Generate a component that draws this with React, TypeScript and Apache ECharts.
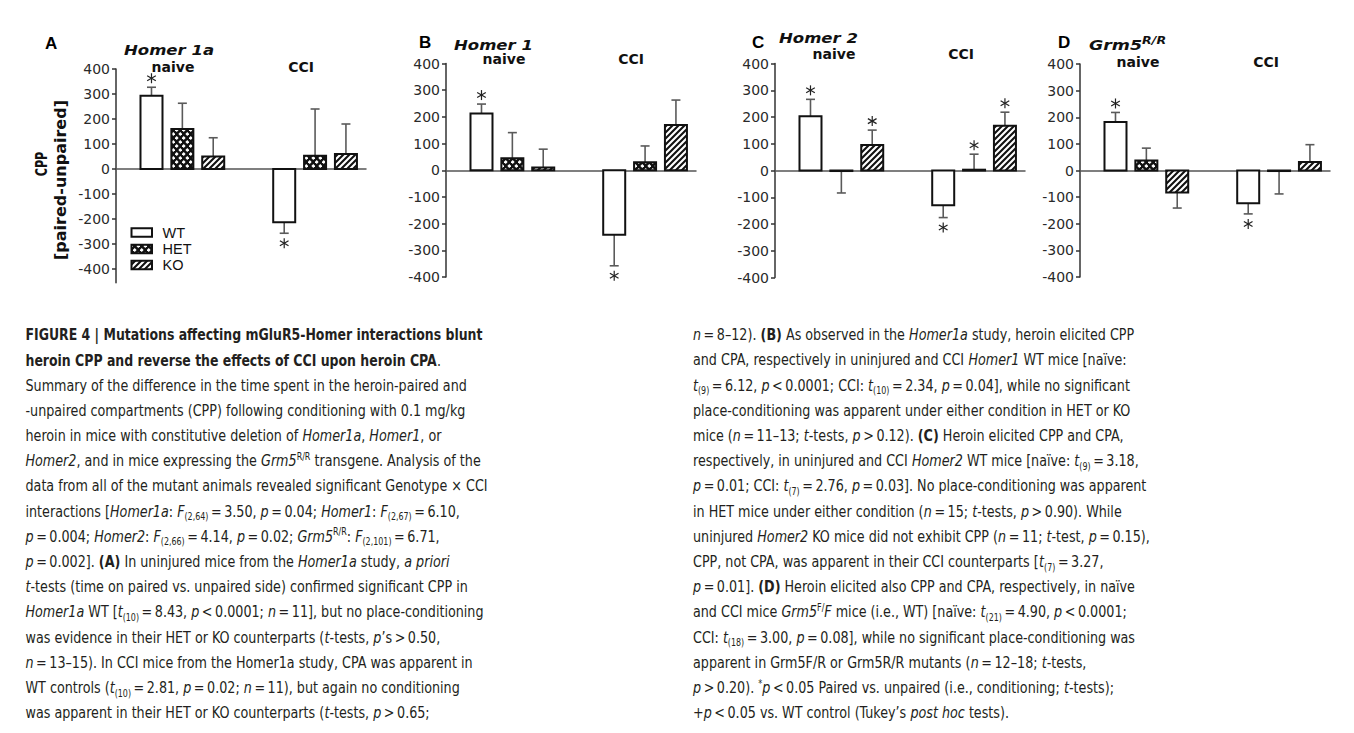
import React, { useEffect, useRef } from 'react';
import * as echarts from 'echarts';

// ---------- data ----------
const conditions = ['naive', 'CCI'];
const genotypes = ['WT', 'HET', 'KO'];
const panelLetters = ['A', 'B', 'C', 'D'];
const panelGenes = ['Homer 1a', 'Homer 1', 'Homer 2', 'Grm5'];
const yTicks = [-400, -300, -200, -100, 0, 100, 200, 300, 400];

// order: naive WT, naive HET, naive KO, CCI WT, CCI HET, CCI KO
const meanA = [293, 160, 50, -213, 53, 60];
const semA = [34, 103, 75, 44, 187, 120];
const starA = [1, 0, 0, 1, 0, 0];

const meanB = [213, 45, 10, -242, 30, 170];
const semB = [35, 96, 69, 116, 61, 93];
const starB = [1, 0, 0, 1, 0, 0];

const meanC = [203, -2, 95, -130, 3, 167];
const semC = [63, 82, 56, 46, 58, 51];
const starC = [1, 0, 1, 1, 1, 1];

const meanD = [182, 38, -83, -123, -2, 32];
const semD = [36, 46, 58, 40, 86, 65];
const starD = [1, 0, 0, 1, 0, 0];

const panelMeans = [meanA, meanB, meanC, meanD];
const panelSems = [semA, semB, semC, semD];
const panelStars = [starA, starB, starC, starD];

const captionLeft = [
  '{b|FIGURE 4 | Mutations affecting mGluR5-Homer interactions blunt}',
  '{b|heroin CPP and reverse the effects of CCI upon heroin CPA}.',
  'Summary of the difference in the time spent in the heroin-paired and',
  '-unpaired compartments (CPP) following conditioning with 0.1 mg/kg',
  'heroin in mice with constitutive deletion of {i|Homer1a}, {i|Homer1}, or',
  '{i|Homer2}, and in mice expressing the {i|Grm5}{sup|R/R} transgene. Analysis of the',
  'data from all of the mutant animals revealed significant Genotype × CCI',
  'interactions [{i|Homer1a}: {i|F}{sub|(2,64)} = 3.50, {i|p} = 0.04; {i|Homer1}: {i|F}{sub|(2,67)} = 6.10,',
  '{i|p} = 0.004; {i|Homer2}: {i|F}{sub|(2,66)} = 4.14, {i|p} = 0.02; {i|Grm5}{sup|R/R}: {i|F}{sub|(2,101)} = 6.71,',
  '{i|p} = 0.002]. {b|(A)} In uninjured mice from the {i|Homer1a} study, {i|a priori}',
  '{i|t}-tests (time on paired vs. unpaired side) confirmed significant CPP in',
  '{i|Homer1a} WT [{i|t}{sub|(10)} = 8.43, {i|p} < 0.0001; {i|n} = 11], but no place-conditioning',
  'was evidence in their HET or KO counterparts ({i|t}-tests, {i|p}’s > 0.50,',
  '{i|n} = 13–15). In CCI mice from the Homer1a study, CPA was apparent in',
  'WT controls ({i|t}{sub|(10)} = 2.81, {i|p} = 0.02; {i|n} = 11), but again no conditioning',
  'was apparent in their HET or KO counterparts ({i|t}-tests, {i|p} > 0.65;',
];

const captionRight = [
  '{i|n} = 8–12). {b|(B)} As observed in the {i|Homer1a} study, heroin elicited CPP',
  'and CPA, respectively in uninjured and CCI {i|Homer1} WT mice [naïve:',
  '{i|t}{sub|(9)} = 6.12, {i|p} < 0.0001; CCI: {i|t}{sub|(10)} = 2.34, {i|p} = 0.04], while no significant',
  'place-conditioning was apparent under either condition in HET or KO',
  'mice ({i|n} = 11–13; {i|t}-tests, {i|p} > 0.12). {b|(C)} Heroin elicited CPP and CPA,',
  'respectively, in uninjured and CCI {i|Homer2} WT mice [naïve: {i|t}{sub|(9)} = 3.18,',
  '{i|p} = 0.01; CCI: {i|t}{sub|(7)} = 2.76, {i|p} = 0.03]. No place-conditioning was apparent',
  'in HET mice under either condition ({i|n} = 15; {i|t}-tests, {i|p} > 0.90). While',
  'uninjured {i|Homer2} KO mice did not exhibit CPP ({i|n} = 11; {i|t}-test, {i|p} = 0.15),',
  'CPP, not CPA, was apparent in their CCI counterparts [{i|t}{sub|(7)} = 3.27,',
  '{i|p} = 0.01]. {b|(D)} Heroin elicited also CPP and CPA, respectively, in naïve',
  'and CCI mice {i|Grm5}{sup|F/}{i|F} mice (i.e., WT) [naïve: {i|t}{sub|(21)} = 4.90, {i|p} < 0.0001;',
  'CCI: {i|t}{sub|(18)} = 3.00, {i|p} = 0.08], while no significant place-conditioning was',
  'apparent in Grm5F/R or Grm5R/R mutants ({i|n} = 12–18; {i|t}-tests,',
  '{i|p} > 0.20). {sup|*}{i|p} < 0.05 Paired vs. unpaired (i.e., conditioning; {i|t}-tests);',
  '+{i|p} < 0.05 vs. WT control (Tukey’s {i|post hoc} tests).',
];

// ---------- layout ----------
const GROUP_GAP = 4.3;
const X_MIN = -1.15;
const X_MAX = 6.95;
const GRID_W = 250;
const grids = [
  { left: 116, top: 69, height: 213.75, yMin: -455 },
  { left: 446, top: 63.5, height: 213.5, yMin: -400 },
  { left: 775, top: 63.5, height: 214, yMin: -400 },
  { left: 1080, top: 64, height: 213, yMin: -400 },
];
const letterPos = [[45, 43], [419, 42], [752, 42], [1058, 42]];
const genePos = [[124, 50], [454, 45], [779, 38], [1089, 45]];
const naivePos = [[173, 67], [504, 59], [834, 54], [1138, 62]];
const cciPos = [[301, 67], [631, 59], [961, 54], [1266, 62]];

const CAP_FONT = '"Liberation Sans Narrow", "DejaVu Sans Condensed", "Liberation Sans", sans-serif';
const CHART_FONT = '"DejaVu Sans", Verdana, sans-serif';
const INK = '#231f20';
const THIN = '\u2009';

function tighten(s: string): string {
  return s.replace(/ ([=<>]) /g, THIN + '$1' + THIN);
}

function makeTile(kind: string): HTMLCanvasElement {
  const c = document.createElement('canvas');
  const g = c.getContext('2d') as CanvasRenderingContext2D;
  if (kind === 'het') {
    c.width = 7; c.height = 8;
    g.fillStyle = '#111'; g.fillRect(0, 0, 7, 8);
    g.fillStyle = '#fff';
    const d = (x: number, y: number, r: number) => {
      g.beginPath(); g.moveTo(x, y - r); g.lineTo(x + r, y); g.lineTo(x, y + r); g.lineTo(x - r, y); g.closePath(); g.fill();
    };
    d(1.75, 2, 1.9); d(5.25, 6, 1.9);
  } else {
    c.width = 6; c.height = 6;
    g.fillStyle = '#fff'; g.fillRect(0, 0, 6, 6);
    g.strokeStyle = '#111'; g.lineWidth = 2.1;
    g.beginPath();
    g.moveTo(-1, 7); g.lineTo(7, -1);
    g.moveTo(-1, 1); g.lineTo(1, -1);
    g.moveTo(5, 7); g.lineTo(7, 5);
    g.stroke();
  }
  return c;
}

export default function App() {
  const ref = useRef<HTMLDivElement>(null);
  useEffect(() => {
    if (!ref.current) return;
    const chart = echarts.init(ref.current, null, { renderer: 'svg' });
    const het = makeTile('het');
    const ko = makeTile('ko');
    const fills: any[] = [
      '#ffffff',
      { image: het, repeat: 'repeat', imageWidth: 7, imageHeight: 8 },
      { image: ko, repeat: 'repeat', imageWidth: 6, imageHeight: 6 },
    ];

    const renderItem = (params: any, api: any) => {
      const x = api.value(0);
      const m = api.value(1);
      const e = api.value(2);
      const st = api.value(3);
      const g = api.value(4);
      const dir = m >= 0 ? 1 : -1;
      const p0 = api.coord([x, 0]);
      const p1 = api.coord([x, m]);
      const pe = api.coord([x, m + dir * e]);
      const cx = p0[0];
      const bw = 22;
      const children: any[] = [
        { type: 'line', shape: { x1: cx, y1: p1[1], x2: cx, y2: pe[1] }, style: { stroke: '#5a5a5a', lineWidth: 1.6 } },
        { type: 'line', shape: { x1: cx - 4.5, y1: pe[1], x2: cx + 4.5, y2: pe[1] }, style: { stroke: '#5a5a5a', lineWidth: 1.6 } },
        {
          type: 'rect',
          shape: { x: cx - bw / 2, y: Math.min(p0[1], p1[1]), width: bw, height: Math.abs(p1[1] - p0[1]) },
          style: { fill: fills[g], stroke: '#111', lineWidth: 2 },
        },
      ];
      if (st) {
        const cy = pe[1] + (dir > 0 ? -9 : 10);
        const r = 5;
        const a = r * Math.cos(Math.PI / 6);
        const b = r * Math.sin(Math.PI / 6);
        const s = { stroke: '#222', lineWidth: 1.2 };
        children.push({ type: 'line', shape: { x1: cx, y1: cy - r, x2: cx, y2: cy + r }, style: s });
        children.push({ type: 'line', shape: { x1: cx - a, y1: cy - b, x2: cx + a, y2: cy + b }, style: s });
        children.push({ type: 'line', shape: { x1: cx - a, y1: cy + b, x2: cx + a, y2: cy - b }, style: s });
      }
      return { type: 'group', children };
    };

    const gridOpt = grids.map((g) => ({
      left: g.left, top: g.top, width: GRID_W, height: g.height, containLabel: false, outerBoundsMode: 'none',
    }));
    const xAxes = grids.map((g, p) => ({
      type: 'value', gridIndex: p, min: X_MIN, max: X_MAX,
      axisLine: { show: true, onZero: true, lineStyle: { color: '#555', width: 1.5 } },
      axisTick: { show: false }, axisLabel: { show: false }, splitLine: { show: false },
    }));
    const yAxes = grids.map((g, p) => ({
      type: 'value', gridIndex: p, min: g.yMin, max: 400,
      axisLine: { show: true, onZero: false, lineStyle: { color: '#333', width: 1.5 } },
      axisTick: { show: true, customValues: yTicks, length: 4, lineStyle: { color: '#333', width: 1.5 } },
      axisLabel: { show: true, customValues: yTicks, fontSize: 14, fontFamily: CHART_FONT, color: '#2a2a2a', margin: 6 },
      splitLine: { show: false },
    }));
    const series = panelMeans.map((means, p) => ({
      type: 'custom',
      name: panelLetters[p],
      xAxisIndex: p,
      yAxisIndex: p,
      renderItem,
      clip: false,
      silent: true,
      encode: { x: 0, y: 1 },
      data: means.map((m, i) => {
        const c = Math.floor(i / genotypes.length);
        const g = i % genotypes.length;
        return [c * GROUP_GAP + g, m, panelSems[p][i], panelStars[p][i], g];
      }),
    }));

    const graphic: any[] = [];
    const txt = (x: number, y: number, text: string, st: any) => ({
      type: 'text', x, y, silent: true,
      style: Object.assign({ text, fill: '#111', align: 'left', verticalAlign: 'middle', textAlign: 'left', textVerticalAlign: 'middle' }, st),
    });
    panelLetters.forEach((L, p) => {
      graphic.push(txt(letterPos[p][0], letterPos[p][1], L, { fontSize: 17, fontWeight: 'bold', fontFamily: '"Liberation Sans", Arial, sans-serif', fill: '#000' }));
      const geneStyle = { fontSize: 14.5, fontWeight: 'bold', fontStyle: 'italic', fontFamily: CHART_FONT, fill: '#111' };
      if (p === 3) {
        graphic.push({
          type: 'text', x: genePos[p][0], y: genePos[p][1], silent: true, scaleX: 1.2,
          style: {
            text: '{g|' + panelGenes[p] + '}{s|R/R}', align: 'left', verticalAlign: 'middle', textAlign: 'left', textVerticalAlign: 'middle',
            fontSize: 14.5, fontFamily: CHART_FONT, lineHeight: 20,
            rich: {
              g: Object.assign({ lineHeight: 20 }, geneStyle),
              s: { fontSize: 10.5, fontWeight: 'bold', fontStyle: 'italic', fontFamily: CHART_FONT, fill: '#111', lineHeight: 12, verticalAlign: 'top' },
            },
          },
        });
      } else {
        graphic.push(Object.assign(txt(genePos[p][0], genePos[p][1], panelGenes[p], geneStyle), { scaleX: 1.14 }));
      }
      const condStyle = { fontSize: 14, fontWeight: 'bold', fontFamily: CHART_FONT, fill: '#111', align: 'center', textAlign: 'center' };
      graphic.push(txt(naivePos[p][0], naivePos[p][1], conditions[0], condStyle));
      graphic.push(txt(cciPos[p][0], cciPos[p][1], conditions[1], condStyle));
    });
    // y axis name (panel A)
    graphic.push({
      type: 'text', x: 41.5, y: 164, rotation: Math.PI / 2, scaleX: 0.7, silent: true,
      style: { text: 'CPP', fontSize: 16, fontWeight: 'bold', fontFamily: CHART_FONT, fill: '#111', align: 'center', verticalAlign: 'middle', textAlign: 'center', textVerticalAlign: 'middle' },
    });
    graphic.push({
      type: 'text', x: 60, y: 180, rotation: Math.PI / 2, silent: true,
      style: { text: '[paired-unpaired]', fontSize: 16, fontWeight: 'bold', fontFamily: CHART_FONT, fill: '#111', align: 'center', verticalAlign: 'middle', textAlign: 'center', textVerticalAlign: 'middle' },
    });
    // legend (panel A)
    const legendY = [232.5, 249, 265];
    genotypes.forEach((gname, i) => {
      graphic.push({
        type: 'rect', silent: true,
        shape: { x: 131.5, y: legendY[i] - 4.25, width: 20.5, height: 8.5 },
        style: { fill: fills[i], stroke: '#111', lineWidth: 2 },
      });
      graphic.push(txt(162.5, legendY[i], gname, { fontSize: 14.5, fontFamily: '"Liberation Sans", Arial, sans-serif', fill: '#111' }));
    });

    // caption
    const base = { fontFamily: CAP_FONT, fontSize: 16, fill: INK, lineHeight: 20 };
    const rich = {
      i: Object.assign({}, base, { fontStyle: 'italic' }),
      b: Object.assign({}, base, { fontWeight: 'bold' }),
      sub: { fontFamily: CAP_FONT, fontSize: 10, fill: INK, lineHeight: 10, verticalAlign: 'bottom' },
      sup: { fontFamily: CAP_FONT, fontSize: 10, fill: INK, lineHeight: 14, verticalAlign: 'top' },
    };
    const addCaption = (lines: string[], x: number, boldLines: number) => {
      lines.forEach((line, k) => {
        graphic.push({
          type: 'text', x, y: 335 + k * 25.2, silent: true,
          scaleX: k < boldLines ? 0.868 : 0.885,
          style: Object.assign({ text: tighten(line), rich, align: 'left', verticalAlign: 'middle', textAlign: 'left', textVerticalAlign: 'middle' }, base),
        });
      });
    };
    addCaption(captionLeft, 25.5, 2);
    addCaption(captionRight, 693, 0);

    chart.setOption({
      animation: false,
      backgroundColor: '#ffffff',
      textStyle: { fontFamily: CHART_FONT },
      grid: gridOpt,
      xAxis: xAxes,
      yAxis: yAxes,
      series,
      graphic,
    });
    return () => chart.dispose();
  }, []);
  return <div ref={ref} style={{ position: 'absolute', left: 0, top: 0, width: 1354, height: 733 }} />;
}
